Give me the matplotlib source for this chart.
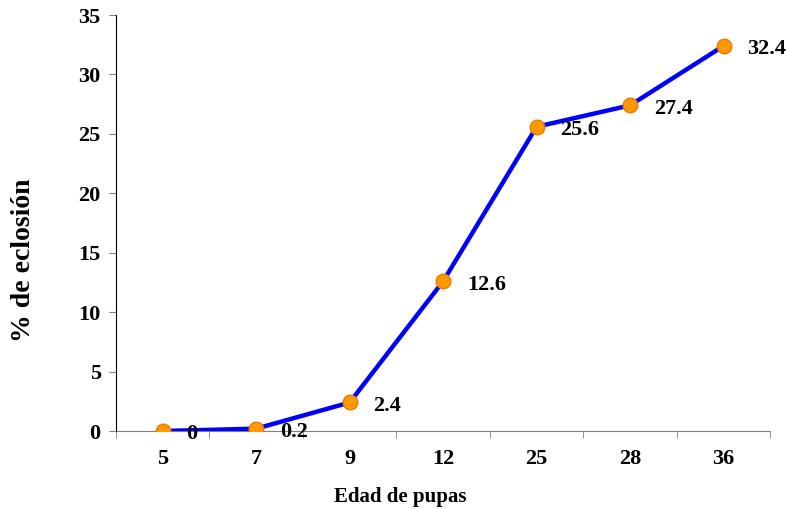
import numpy as np
import matplotlib.pyplot as plt

edades = ['5', '7', '9', '12', '25', '28', '36']
eclosion = [0, 0.2, 2.4, 12.6, 25.6, 27.4, 32.4]
etiquetas = ['0', '0.2', '2.4', '12.6', '25.6', '27.4', '32.4']

plt.rcParams['font.family'] = ['Liberation Serif', 'DejaVu Serif']
plt.rcParams['font.weight'] = 'bold'

fig = plt.figure(figsize=(7.86, 5.09), dpi=100)
ax = fig.add_axes([0.1476, 0.1532, 0.8324, 0.8173])

x = np.arange(len(edades))
ax.plot(x, eclosion, color='#0000FF', lw=3.2, zorder=2)
ax.plot(x, eclosion, 'o', ms=10.5, mfc='#FF9900', mec='#F07800', mew=1, zorder=3)

for xi, yi, t in zip(x, eclosion, etiquetas):
    ax.annotate(t, (xi, yi), xytext=(17, -2.5), textcoords='offset points',
                ha='left', va='center', fontsize=16, fontweight='bold')

ax.set_xlim(-0.5, len(edades) - 0.5)
ax.set_ylim(0, 35)
ax.set_yticks(np.arange(0, 36, 5))
ax.set_xticks(x)
ax.set_xticklabels(edades)
ax.set_xticks(np.arange(-0.5, len(edades), 1), minor=True)
ax.tick_params(axis='x', which='major', length=0, pad=13, labelsize=16)
ax.tick_params(axis='x', which='minor', length=5, direction='out', color='#808080')
ax.tick_params(axis='y', length=5, direction='out', labelsize=16, pad=6, color='#808080')
for lab in ax.get_xticklabels() + ax.get_yticklabels():
    lab.set_fontweight('bold')

ax.spines['top'].set_visible(False)
ax.spines['right'].set_visible(False)
ax.spines['left'].set_color('#000000')
ax.spines['bottom'].set_color('#808080')
ax.spines['bottom'].set_zorder(1)

# titulos de ejes (posicion como en el original, no centrados)
fig.text(400 / 786, 1 - 497 / 509, 'Edad de pupas', fontsize=15, fontweight='bold',
         ha='center', va='center')
fig.text(24 / 786, 1 - 260 / 509, '% de eclosión', fontsize=20, fontweight='bold',
         ha='center', va='center', rotation=90)

plt.savefig('out.png', dpi=100)
